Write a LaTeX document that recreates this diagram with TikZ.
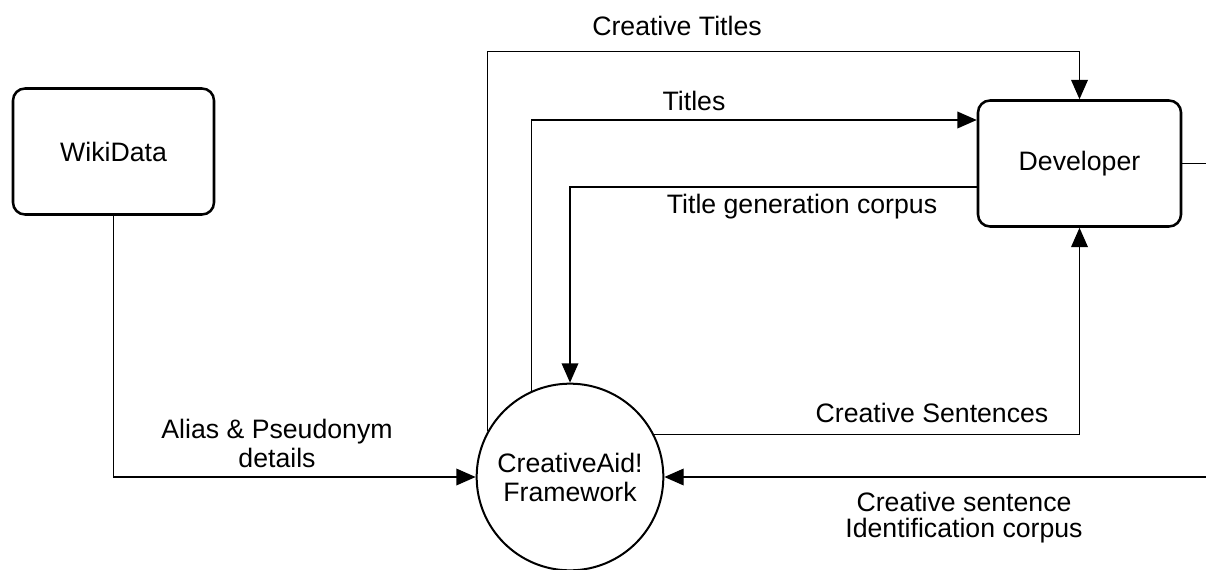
\documentclass[tikz,border=0pt]{standalone}
\usepackage{fontspec}
\setmainfont{Liberation Sans}
\usetikzlibrary{arrows.meta,calc}

\begin{document}
\begin{tikzpicture}[x=0.75pt,y=-0.75pt,
  every node/.style={font=\fontsize{20}{21.75}\selectfont},
  entity/.style={draw, rounded corners=9pt, line width=1.9pt,
    minimum width=150.75pt, minimum height=94.5pt, inner sep=0pt},
  process/.style={draw, circle, line width=1.5pt, minimum size=140pt,
    inner sep=0pt, align=center},
  flow/.style={line width=1pt, -{Triangle[length=14.5pt,width=12.5pt]}},
  link/.style={line width=1pt},
  label/.style={inner sep=0pt, align=center}]

\useasboundingbox (0,0) rectangle (1206,570);

% external entities and the central process
\node[entity] (wiki) at (113.5,151.5) {WikiData};
\node[entity, minimum width=152.25pt] (dev) at (1079.5,163.5) {Developer};
\node[process] (fw) at (570,477) {CreativeAid!\\Framework};

% right border of the drawing, where the cut flows leave
\coordinate (edge) at (1206,0);

% data flows
\draw[flow] (fw.151.4) |- ($(dev.north)+(0,-48)$) -- (dev.north);
\draw[flow] (fw.114.4) |- ($(dev.west)+(0,-43.5)$);
\draw[flow] ($(dev.west)+(0,23.5)$) -| (fw.north);
\draw[flow] (fw.27.7) -| (dev.south);
\draw[flow] (wiki.south) |- (fw.west);
\draw[flow] (fw.east -| edge) -- (fw.east);
\draw[link] (dev.east) -- (dev.east -| edge);

% flow labels
\node[label, anchor=base] (lct) at (677,36) {Creative Titles};
\node[label, anchor=base] (lt) at (694,111) {Titles};
\node[label, anchor=base] (ltg) at (802,214) {Title generation corpus};
\node[label, anchor=base] (lcs) at (932,422) {Creative Sentences};
\node[label] (lal) at (277,443) {Alias \& Pseudonym\\details};
\node[label, font=\fontsize{20}{19.5}\selectfont] (lci) at (964,518)
  {Creative sentence\\Identification corpus};
\end{tikzpicture}
\end{document}
